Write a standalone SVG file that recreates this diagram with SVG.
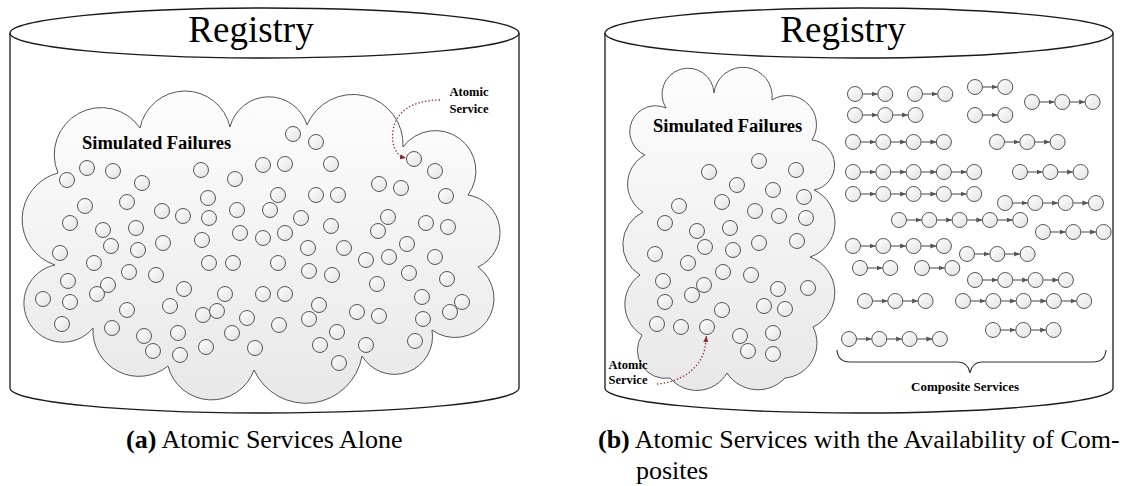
<svg xmlns="http://www.w3.org/2000/svg" width="1140" height="486" viewBox="0 0 1140 486">
<defs>
<linearGradient id="cg" x1="0" y1="0" x2="0" y2="1"><stop offset="0" stop-color="#fdfdfd"/><stop offset="1" stop-color="#e8e8e8"/></linearGradient>
<linearGradient id="sg" x1="0" y1="0" x2="1" y2="1"><stop offset="0" stop-color="#ffffff"/><stop offset="1" stop-color="#e2e2e2"/></linearGradient>
<marker id="ah" viewBox="0 0 6 6" refX="6" refY="3" markerWidth="6" markerHeight="6" markerUnits="userSpaceOnUse" orient="auto"><path d="M0,0.6 L6,3 L0,5.4z" fill="#555"/></marker>
<marker id="rh" viewBox="0 0 6 6" refX="6" refY="3" markerWidth="6" markerHeight="6" markerUnits="userSpaceOnUse" orient="auto"><path d="M0,0.5 L6,3 L0,5.5z" fill="#8b2a2a"/></marker>
</defs>
<style>
.cyl{fill:none;stroke:#1a1a1a;stroke-width:1.3}
.cloud{fill:url(#cg);stroke:#555;stroke-width:1}
circle{fill:url(#sg);stroke:#555;stroke-width:1}
.lk path{stroke:#707070;stroke-width:1.3;fill:none;marker-end:url(#ah)}
.red{stroke:#9c2f2f;stroke-width:1.3;fill:none;stroke-dasharray:1.4 2;marker-end:url(#rh)}
text{font-family:'Liberation Serif','Tinos','Noto Serif','DejaVu Serif',serif;fill:#000}
.title{font-size:37px;text-anchor:middle}
.sf{font-size:18.5px;font-weight:bold}
.lab{font-size:12.5px;font-weight:bold;text-anchor:middle}
.cs{font-size:13px;font-weight:bold;text-anchor:middle}
.cap{font-size:26px}
</style>
<rect width="1140" height="486" fill="#fff"/>

<g id="registry-a">
<path class="cyl" d="M10 33 V388 A254.5 25 0 0 0 519 388 V33"/>
<ellipse class="cyl" cx="264.5" cy="33" rx="254.5" ry="25"/>
<text class="title" x="251" y="42">Registry</text>
</g>
<g id="registry-b">
<path class="cyl" d="M605 33 V388 A254 25 0 0 0 1113 388 V33"/>
<ellipse class="cyl" cx="859" cy="33" rx="254" ry="25"/>
<text class="title" x="843" y="42">Registry</text>
</g>

<g id="cloud-a">
<path class="cloud" d="M58 173 A47 47 0 0 1 140 128 A46 46 0 0 1 230 127 A40 40 0 0 1 307 125 A50 50 0 0 1 403 147 A40 40 0 1 1 468 195 A38 38 0 0 1 478 267 A39 39 0 1 1 432 330 A38 38 0 0 1 362 356 A57 57 0 0 1 254 370 A45 45 0 0 1 168 366 A46 46 0 0 1 93 328 A39 39 0 1 1 55 265 A48 48 0 0 1 58 173 Z"/>
<text class="sf" x="82" y="149">Simulated Failures</text>
</g>
<g id="atomic-a">
<circle id="l1" cx="87" cy="168" r="7.5"/><circle id="l2" cx="113" cy="171" r="7.5"/><circle id="l3" cx="67" cy="180" r="7.5"/><circle id="l4" cx="142" cy="183" r="7.5"/>
<circle id="l5" cx="201" cy="170" r="7.5"/><circle id="l6" cx="235" cy="179" r="7.5"/><circle id="l7" cx="263" cy="165" r="7.5"/><circle id="l8" cx="285" cy="164" r="7.5"/>
<circle id="l9" cx="293" cy="134" r="7.5"/><circle id="l10" cx="316" cy="142" r="7.5"/><circle id="l11" cx="331" cy="164" r="7.5"/><circle id="l12" cx="208" cy="198" r="7.5"/>
<circle id="l13" cx="85" cy="206" r="7.5"/><circle id="l14" cx="127" cy="202" r="7.5"/><circle id="l15" cx="162" cy="211" r="7.5"/><circle id="l16" cx="183" cy="216" r="7.5"/>
<circle id="l17" cx="209" cy="218" r="7.5"/><circle id="l18" cx="237" cy="210" r="7.5"/><circle id="l19" cx="270" cy="210" r="7.5"/><circle id="l20" cx="278" cy="195" r="7.5"/>
<circle id="l21" cx="316" cy="195" r="7.5"/><circle id="l22" cx="338" cy="195" r="7.5"/><circle id="l23" cx="70" cy="223" r="7.5"/><circle id="l24" cx="103" cy="230" r="7.5"/>
<circle id="l25" cx="136" cy="228" r="7.5"/><circle id="l26" cx="240" cy="233" r="7.5"/><circle id="l27" cx="263" cy="238" r="7.5"/><circle id="l28" cx="285" cy="233" r="7.5"/>
<circle id="l29" cx="202" cy="240" r="7.5"/><circle id="l30" cx="163" cy="243" r="7.5"/><circle id="l31" cx="111" cy="246" r="7.5"/><circle id="l32" cx="138" cy="250" r="7.5"/>
<circle id="l33" cx="60" cy="253" r="7.5"/><circle id="l34" cx="94" cy="263" r="7.5"/><circle id="l35" cx="209" cy="263" r="7.5"/><circle id="l36" cx="233" cy="263" r="7.5"/>
<circle id="l37" cx="278" cy="263" r="7.5"/><circle id="l38" cx="129" cy="272" r="7.5"/><circle id="l39" cx="156" cy="275" r="7.5"/><circle id="l40" cx="68" cy="281" r="7.5"/>
<circle id="l41" cx="108" cy="285" r="7.5"/><circle id="l42" cx="97" cy="294" r="7.5"/><circle id="l43" cx="43" cy="299" r="7.5"/><circle id="l44" cx="70" cy="302" r="7.5"/>
<circle id="l45" cx="184" cy="289" r="7.5"/><circle id="l46" cx="225" cy="294" r="7.5"/><circle id="l47" cx="263" cy="294" r="7.5"/><circle id="l48" cx="285" cy="294" r="7.5"/>
<circle id="l49" cx="127" cy="310" r="7.5"/><circle id="l50" cx="170" cy="306" r="7.5"/><circle id="l51" cx="203" cy="315" r="7.5"/><circle id="l52" cx="217" cy="311" r="7.5"/>
<circle id="l53" cx="247" cy="318" r="7.5"/><circle id="l54" cx="62" cy="324" r="7.5"/><circle id="l55" cx="112" cy="328" r="7.5"/><circle id="l56" cx="144" cy="336" r="7.5"/>
<circle id="l57" cx="178" cy="333" r="7.5"/><circle id="l58" cx="232" cy="333" r="7.5"/><circle id="l59" cx="279" cy="325" r="7.5"/><circle id="l60" cx="153" cy="351" r="7.5"/>
<circle id="l61" cx="180" cy="355" r="7.5"/><circle id="l62" cx="206" cy="347" r="7.5"/><circle id="l63" cx="255" cy="348" r="7.5"/><circle id="l64" cx="414" cy="159" r="7.5"/>
<circle id="l65" cx="435" cy="171" r="7.5"/><circle id="l66" cx="379" cy="184" r="7.5"/><circle id="l67" cx="401" cy="188" r="7.5"/><circle id="l68" cx="446" cy="196" r="7.5"/>
<circle id="l69" cx="301" cy="218" r="7.5"/><circle id="l70" cx="331" cy="226" r="7.5"/><circle id="l71" cx="388" cy="217" r="7.5"/><circle id="l72" cx="378" cy="231" r="7.5"/>
<circle id="l73" cx="426" cy="223" r="7.5"/><circle id="l74" cx="448" cy="227" r="7.5"/><circle id="l75" cx="308" cy="248" r="7.5"/><circle id="l76" cx="344" cy="248" r="7.5"/>
<circle id="l77" cx="407" cy="244" r="7.5"/><circle id="l78" cx="366" cy="260" r="7.5"/><circle id="l79" cx="389" cy="257" r="7.5"/><circle id="l80" cx="435" cy="257" r="7.5"/>
<circle id="l81" cx="309" cy="271" r="7.5"/><circle id="l82" cx="332" cy="275" r="7.5"/><circle id="l83" cx="409" cy="273" r="7.5"/><circle id="l84" cx="447" cy="279" r="7.5"/>
<circle id="l85" cx="377" cy="284" r="7.5"/><circle id="l86" cx="319" cy="305" r="7.5"/><circle id="l87" cx="422" cy="297" r="7.5"/><circle id="l88" cx="462" cy="302" r="7.5"/>
<circle id="l89" cx="450" cy="312" r="7.5"/><circle id="l90" cx="309" cy="319" r="7.5"/><circle id="l91" cx="357" cy="312" r="7.5"/><circle id="l92" cx="379" cy="316" r="7.5"/>
<circle id="l93" cx="423" cy="319" r="7.5"/><circle id="l94" cx="337" cy="332" r="7.5"/><circle id="l95" cx="320" cy="345" r="7.5"/><circle id="l96" cx="366" cy="345" r="7.5"/>
<circle id="l97" cx="415" cy="341" r="7.5"/><circle id="l98" cx="339" cy="363" r="7.5"/>
</g>
<g id="label-a">
<text class="lab" x="469" y="96">Atomic</text>
<text class="lab" x="469" y="113">Service</text>
</g>

<g id="cloud-b">
<path class="cloud" d="M645 155 A25 25 0 0 1 666 108 A26 26 0 1 1 714 93 A29 29 0 0 1 772 100 A29 29 0 0 1 812 140 A25.3 25.3 0 0 1 814 190 A36 36 0 0 1 810 257 A38 38 0 0 1 813 327 A35 35 0 0 1 785 378 A37 37 0 0 1 727 373 A35 35 0 0 1 670 378 A28 28 0 0 1 642 335 A36 36 0 0 1 640 275 A36 36 0 0 1 643 212 A33 33 0 0 1 645 155 Z"/>
<text class="sf" x="653" y="132">Simulated Failures</text>
</g>
<g id="atomic-b">
<circle id="r1" cx="759" cy="161" r="7.5"/><circle id="r2" cx="796" cy="170" r="7.5"/><circle id="r3" cx="709" cy="172" r="7.5"/><circle id="r4" cx="737" cy="185" r="7.5"/>
<circle id="r5" cx="773" cy="190" r="7.5"/><circle id="r6" cx="804" cy="197" r="7.5"/><circle id="r7" cx="722" cy="202" r="7.5"/><circle id="r8" cx="679" cy="206" r="7.5"/>
<circle id="r9" cx="755" cy="211" r="7.5"/><circle id="r10" cx="779" cy="216" r="7.5"/><circle id="r11" cx="806" cy="218" r="7.5"/><circle id="r12" cx="665" cy="223" r="7.5"/>
<circle id="r13" cx="697" cy="231" r="7.5"/><circle id="r14" cx="730" cy="228" r="7.5"/><circle id="r15" cx="759" cy="243" r="7.5"/><circle id="r16" cx="797" cy="241" r="7.5"/>
<circle id="r17" cx="705" cy="247" r="7.5"/><circle id="r18" cx="733" cy="250" r="7.5"/><circle id="r19" cx="655" cy="254" r="7.5"/><circle id="r20" cx="688" cy="263" r="7.5"/>
<circle id="r21" cx="723" cy="272" r="7.5"/><circle id="r22" cx="751" cy="275" r="7.5"/><circle id="r23" cx="663" cy="281" r="7.5"/><circle id="r24" cx="704" cy="285" r="7.5"/>
<circle id="r25" cx="692" cy="295" r="7.5"/><circle id="r26" cx="778" cy="289" r="7.5"/><circle id="r27" cx="808" cy="288" r="7.5"/><circle id="r28" cx="665" cy="302" r="7.5"/>
<circle id="r29" cx="722" cy="310" r="7.5"/><circle id="r30" cx="764" cy="306" r="7.5"/><circle id="r31" cx="785" cy="309" r="7.5"/><circle id="r32" cx="657" cy="324" r="7.5"/>
<circle id="r33" cx="681" cy="327" r="7.5"/><circle id="r34" cx="707" cy="327" r="7.5"/><circle id="r35" cx="740" cy="336" r="7.5"/><circle id="r36" cx="773" cy="333" r="7.5"/>
<circle id="r37" cx="748" cy="351" r="7.5"/><circle id="r38" cx="773" cy="354" r="7.5"/>
</g>
<g id="label-b">
<text class="lab" x="628" y="369">Atomic</text>
<text class="lab" x="628" y="384">Service</text>
</g>

<g id="composites">
<g id="c1"><circle cx="855" cy="94" r="7.5"/><circle cx="885.3" cy="94" r="7.5"/></g>
<g id="c2"><circle cx="915" cy="94" r="7.5"/><circle cx="945.3" cy="94" r="7.5"/></g>
<g id="c3"><circle cx="975" cy="87" r="7.5"/><circle cx="1005.3" cy="87" r="7.5"/></g>
<g id="c4"><circle cx="1032" cy="102" r="7.5"/><circle cx="1062.3" cy="102" r="7.5"/><circle cx="1092.6" cy="102" r="7.5"/></g>
<g id="c5"><circle cx="855" cy="115" r="7.5"/><circle cx="885.3" cy="115" r="7.5"/><circle cx="915.6" cy="115" r="7.5"/></g>
<g id="c6"><circle cx="975" cy="115" r="7.5"/><circle cx="1005.3" cy="115" r="7.5"/></g>
<g id="c7"><circle cx="853" cy="142" r="7.5"/><circle cx="883.3" cy="142" r="7.5"/><circle cx="913.6" cy="142" r="7.5"/><circle cx="943.9" cy="142" r="7.5"/></g>
<g id="c8"><circle cx="997" cy="142" r="7.5"/><circle cx="1027.3" cy="142" r="7.5"/><circle cx="1057.6" cy="142" r="7.5"/></g>
<g id="c9"><circle cx="853" cy="172" r="7.5"/><circle cx="883.3" cy="172" r="7.5"/><circle cx="913.6" cy="172" r="7.5"/><circle cx="943.9" cy="172" r="7.5"/><circle cx="974.2" cy="172" r="7.5"/></g>
<g id="c10"><circle cx="1020" cy="172" r="7.5"/><circle cx="1050.3" cy="172" r="7.5"/><circle cx="1080.6" cy="172" r="7.5"/></g>
<g id="c11"><circle cx="853" cy="194" r="7.5"/><circle cx="883.3" cy="194" r="7.5"/><circle cx="913.6" cy="194" r="7.5"/><circle cx="943.9" cy="194" r="7.5"/><circle cx="974.2" cy="194" r="7.5"/></g>
<g id="c12"><circle cx="1005" cy="203" r="7.5"/><circle cx="1035.3" cy="203" r="7.5"/><circle cx="1065.6" cy="203" r="7.5"/><circle cx="1095.9" cy="203" r="7.5"/></g>
<g id="c13"><circle cx="899" cy="220" r="7.5"/><circle cx="929.3" cy="220" r="7.5"/><circle cx="959.6" cy="220" r="7.5"/><circle cx="989.9" cy="220" r="7.5"/><circle cx="1020.2" cy="220" r="7.5"/></g>
<g id="c14"><circle cx="1043" cy="232" r="7.5"/><circle cx="1073.3" cy="232" r="7.5"/><circle cx="1103.6" cy="232" r="7.5"/></g>
<g id="c15"><circle cx="853" cy="246" r="7.5"/><circle cx="883.3" cy="246" r="7.5"/><circle cx="913.6" cy="246" r="7.5"/><circle cx="943.9" cy="246" r="7.5"/></g>
<g id="c16"><circle cx="967" cy="254" r="7.5"/><circle cx="997.3" cy="254" r="7.5"/><circle cx="1027.6" cy="254" r="7.5"/></g>
<g id="c17"><circle cx="860" cy="268" r="7.5"/><circle cx="890.3" cy="268" r="7.5"/></g>
<g id="c18"><circle cx="922" cy="268" r="7.5"/><circle cx="952.3" cy="268" r="7.5"/></g>
<g id="c19"><circle cx="975" cy="280" r="7.5"/><circle cx="1005.3" cy="280" r="7.5"/><circle cx="1035.6" cy="280" r="7.5"/><circle cx="1065.9" cy="280" r="7.5"/></g>
<g id="c20"><circle cx="865" cy="301" r="7.5"/><circle cx="895.3" cy="301" r="7.5"/><circle cx="925.6" cy="301" r="7.5"/></g>
<g id="c21"><circle cx="963" cy="301" r="7.5"/><circle cx="993.3" cy="301" r="7.5"/><circle cx="1023.6" cy="301" r="7.5"/><circle cx="1053.9" cy="301" r="7.5"/><circle cx="1084.2" cy="301" r="7.5"/></g>
<g id="c22"><circle cx="993" cy="330" r="7.5"/><circle cx="1023.3" cy="330" r="7.5"/><circle cx="1053.6" cy="330" r="7.5"/></g>
<g id="c23"><circle cx="849" cy="339" r="7.5"/><circle cx="879.3" cy="339" r="7.5"/><circle cx="909.6" cy="339" r="7.5"/><circle cx="939.9" cy="339" r="7.5"/></g>
</g>

<g id="connectors">
<g class="lk">
<path d="M862.5 94h15.3"/><path d="M922.5 94h15.3"/><path d="M982.5 87h15.3"/>
<path d="M1039.5 102h15.3"/><path d="M1069.8 102h15.3"/>
<path d="M862.5 115h15.3"/><path d="M892.8 115h15.3"/><path d="M982.5 115h15.3"/>
<path d="M860.5 142h15.3"/><path d="M890.8 142h15.3"/><path d="M921.1 142h15.3"/>
<path d="M1004.5 142h15.3"/><path d="M1034.8 142h15.3"/>
<path d="M860.5 172h15.3"/><path d="M890.8 172h15.3"/><path d="M921.1 172h15.3"/><path d="M951.4 172h15.3"/>
<path d="M1027.5 172h15.3"/><path d="M1057.8 172h15.3"/>
<path d="M860.5 194h15.3"/><path d="M890.8 194h15.3"/><path d="M921.1 194h15.3"/><path d="M951.4 194h15.3"/>
<path d="M1012.5 203h15.3"/><path d="M1042.8 203h15.3"/><path d="M1073.1 203h15.3"/>
<path d="M906.5 220h15.3"/><path d="M936.8 220h15.3"/><path d="M967.1 220h15.3"/><path d="M997.4 220h15.3"/>
<path d="M1050.5 232h15.3"/><path d="M1080.8 232h15.3"/>
<path d="M860.5 246h15.3"/><path d="M890.8 246h15.3"/><path d="M921.1 246h15.3"/>
<path d="M974.5 254h15.3"/><path d="M1004.8 254h15.3"/>
<path d="M867.5 268h15.3"/><path d="M929.5 268h15.3"/>
<path d="M982.5 280h15.3"/><path d="M1012.8 280h15.3"/><path d="M1043.1 280h15.3"/>
<path d="M872.5 301h15.3"/><path d="M902.8 301h15.3"/>
<path d="M970.5 301h15.3"/><path d="M1000.8 301h15.3"/><path d="M1031.1 301h15.3"/><path d="M1061.4 301h15.3"/>
<path d="M1000.5 330h15.3"/><path d="M1030.8 330h15.3"/>
<path d="M856.5 339h15.3"/><path d="M886.8 339h15.3"/><path d="M917.1 339h15.3"/>
</g>
<path class="red" d="M440 100 C412 100 396 112 393 130 C391 146 396 156 406 158"/>
<path class="red" d="M657 384 C680 382 700 370 705 348 L706.5 336"/>
</g>

<g id="brace">
<path d="M837 350 Q838 362 850 362 L958 362 Q968 362 970 373 Q972 362 982 362 L1093 362 Q1105 362 1106 350" fill="none" stroke="#333" stroke-width="1.1"/>
<text class="cs" x="965" y="391">Composite Services</text>
</g>

<g id="captions">
<text class="cap" x="126" y="448"><tspan font-weight="bold">(a)</tspan> Atomic Services Alone</text>
<text class="cap" x="598" y="448"><tspan font-weight="bold">(b)</tspan> Atomic Services with the Availability of Com-</text>
<text class="cap" x="636" y="479">posites</text>
</g>
</svg>
